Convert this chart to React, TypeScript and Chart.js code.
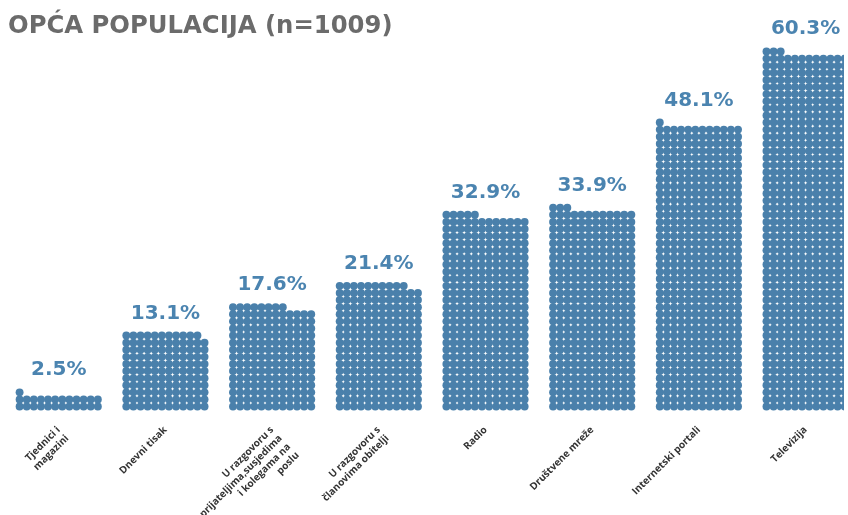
import React, { useEffect, useRef } from "react";
import { Chart, registerables } from "chart.js";

Chart.register(...registerables);

// ---- data ----
const categories: string[][] = [
  ["Tjednici i", "magazini"],
  ["Dnevni tisak"],
  ["U razgovoru s", "prijateljima,susjedima", "i kolegama na", "poslu"],
  ["U razgovoru s", "članovima obitelji"],
  ["Radio"],
  ["Društvene mreže"],
  ["Internetski portali"],
  ["Televizija"],
];
const values: number[] = [2.5, 13.1, 17.6, 21.4, 32.9, 33.9, 48.1, 60.3];
const valueLabels: string[] = ["2.5%", "13.1%", "17.6%", "21.4%", "32.9%", "33.9%", "48.1%", "60.3%"];
const TITLE = "OPĆA POPULACIJA (n=1009)";

// one dot = 0.1 %, 12 dots per row, bars spaced 15 dot-columns apart
const PERCENT_PER_DOT = 0.1;
const COLUMNS = 12;
const BAR_PITCH = 15;

const DOT_COLOR = "#4a80ab";
const LABEL_COLOR = "#4b84b0";

const W = 848;
const H = 515;
const UNIT_X = 7.18; // px per dot step horizontally
const UNIT_Y = 7.17; // px per dot step vertically
const AREA_BOTTOM = 412;

function buildDots() {
  const pts: { x: number; y: number }[] = [];
  values.forEach((v, i) => {
    const count = Math.round(v / PERCENT_PER_DOT);
    for (let k = 0; k < count; k++) {
      pts.push({ x: i * BAR_PITCH + (k % COLUMNS), y: Math.floor(k / COLUMNS) });
    }
  });
  return pts;
}

const tickCenters = values.map((_, i) => i * BAR_PITCH + (COLUMNS - 1) / 2);

const overlayPlugin = {
  id: "overlay",
  afterDatasetsDraw(chart: any) {
    const { ctx, scales } = chart;
    ctx.save();
    // value labels
    ctx.fillStyle = LABEL_COLOR;
    ctx.font = "bold 20px 'DejaVu Sans'";
    ctx.textAlign = "center";
    ctx.textBaseline = "alphabetic";
    values.forEach((v, i) => {
      const count = Math.round(v / PERCENT_PER_DOT);
      const topRow = Math.floor((count - 1) / COLUMNS);
      const x = scales.x.getPixelForValue(tickCenters[i]);
      const y = scales.y.getPixelForValue(topRow) - 17;
      ctx.fillText(valueLabels[i], x, y);
    });
    // title
    ctx.fillStyle = "#6b6b6b";
    ctx.font = "bold 24.3px 'DejaVu Sans'";
    ctx.textAlign = "left";
    ctx.fillText(TITLE, 8, 33);
    ctx.restore();
  },
};

export default function App() {
  const ref = useRef<HTMLCanvasElement | null>(null);
  useEffect(() => {
    document.body.style.margin = "0";
    const canvas = ref.current;
    if (!canvas) return;
    const xMin = -15.8 / UNIT_X;
    const xMax = xMin + W / UNIT_X;
    const yMin = -5.5 / UNIT_Y;
    const yMax = yMin + AREA_BOTTOM / UNIT_Y;
    const chart = new Chart(canvas, {
      type: "scatter",
      data: {
        datasets: [
          {
            data: buildDots(),
            backgroundColor: DOT_COLOR,
            pointRadius: 3.95,
            pointBorderWidth: 0,
            pointHoverRadius: 3.95,
          },
        ],
      },
      options: {
        responsive: false,
        animation: false,
        events: [],
        layout: { padding: 0 },
        plugins: { legend: { display: false }, tooltip: { enabled: false }, title: { display: false } },
        scales: {
          x: {
            type: "linear",
            min: xMin,
            max: xMax,
            grid: { display: false, drawTicks: false },
            border: { display: false },
            afterBuildTicks: (axis: any) => {
              axis.ticks = tickCenters.map((v) => ({ value: v }));
            },
            afterFit: (axis: any) => {
              axis.height = H - AREA_BOTTOM;
            },
            ticks: {
              autoSkip: false,
              maxRotation: 45,
              minRotation: 45,
              padding: 12,
              color: "#333333",
              font: { family: "'Open Sans'", size: 10, weight: "bold", lineHeight: 1.2 },
              callback: (_v: any, i: number) => categories[i],
            },
          },
          y: {
            type: "linear",
            display: false,
            min: yMin,
            max: yMax,
          },
        },
      },
      plugins: [overlayPlugin],
    });
    return () => chart.destroy();
  }, []);
  return <canvas ref={ref} width={W} height={H} style={{ display: "block" }} />;
}
